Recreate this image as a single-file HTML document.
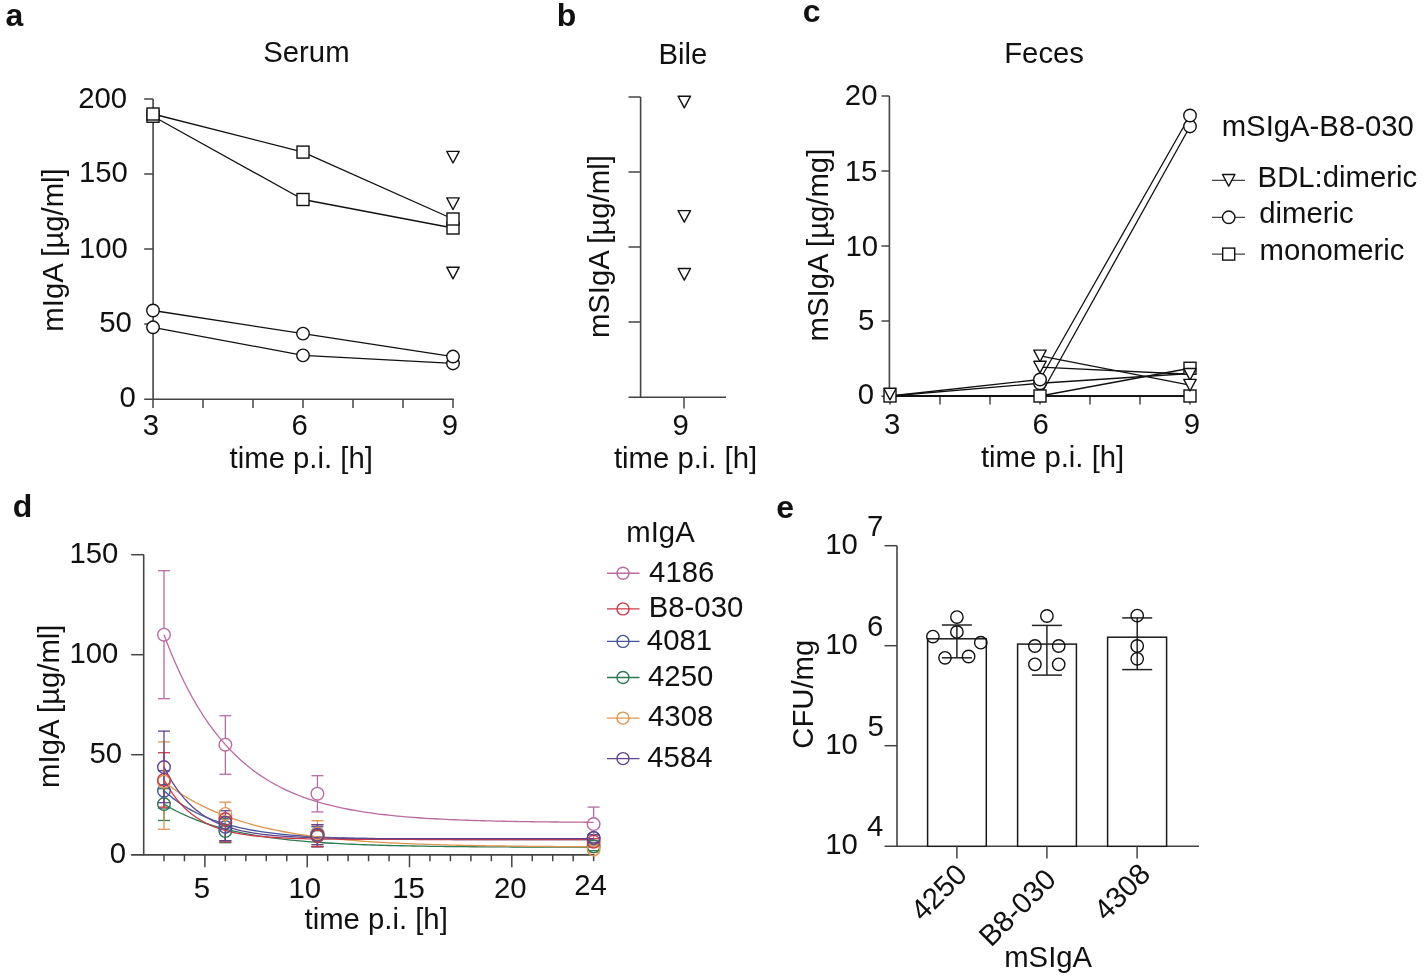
<!DOCTYPE html>
<html><head><meta charset="utf-8"><style>
html,body{margin:0;padding:0;background:#fff;}
svg{display:block;font-family:"Liberation Sans", sans-serif;will-change:transform;}
</style></head><body>
<svg width="1424" height="976" viewBox="0 0 1424 976">
<rect width="1424" height="976" fill="#fff"/>
<text x="5.50" y="25.80" font-size="32" font-weight="bold" fill="#111">a</text>
<text x="263.27" y="61.70" font-size="29.3" font-weight="normal" fill="#111">Serum</text>
<line x1="153.10" y1="99.00" x2="153.10" y2="399.90" stroke="#444" stroke-width="1.6" stroke-linecap="butt"/>
<line x1="144.20" y1="399.30" x2="453.80" y2="399.30" stroke="#444" stroke-width="1.6" stroke-linecap="butt"/>
<line x1="144.20" y1="99.00" x2="153.10" y2="99.00" stroke="#444" stroke-width="1.5" stroke-linecap="butt"/>
<line x1="144.20" y1="174.00" x2="153.10" y2="174.00" stroke="#444" stroke-width="1.5" stroke-linecap="butt"/>
<line x1="144.20" y1="249.00" x2="153.10" y2="249.00" stroke="#444" stroke-width="1.5" stroke-linecap="butt"/>
<line x1="144.20" y1="324.00" x2="153.10" y2="324.00" stroke="#444" stroke-width="1.5" stroke-linecap="butt"/>
<line x1="153.00" y1="399.00" x2="153.00" y2="408.00" stroke="#444" stroke-width="1.5" stroke-linecap="butt"/>
<line x1="203.00" y1="399.00" x2="203.00" y2="408.00" stroke="#444" stroke-width="1.5" stroke-linecap="butt"/>
<line x1="253.00" y1="399.00" x2="253.00" y2="408.00" stroke="#444" stroke-width="1.5" stroke-linecap="butt"/>
<line x1="303.00" y1="399.00" x2="303.00" y2="408.00" stroke="#444" stroke-width="1.5" stroke-linecap="butt"/>
<line x1="353.00" y1="399.00" x2="353.00" y2="408.00" stroke="#444" stroke-width="1.5" stroke-linecap="butt"/>
<line x1="403.00" y1="399.00" x2="403.00" y2="408.00" stroke="#444" stroke-width="1.5" stroke-linecap="butt"/>
<line x1="453.00" y1="399.00" x2="453.00" y2="408.00" stroke="#444" stroke-width="1.5" stroke-linecap="butt"/>
<text x="78.25" y="107.65" font-size="29.3" font-weight="normal" fill="#111">200</text>
<text x="78.95" y="182.10" font-size="29.3" font-weight="normal" fill="#111">150</text>
<text x="78.90" y="258.00" font-size="29.3" font-weight="normal" fill="#111">100</text>
<text x="99.20" y="332.10" font-size="29.3" font-weight="normal" fill="#111">50</text>
<text x="119.40" y="407.20" font-size="29.3" font-weight="normal" fill="#111">0</text>
<text x="142.80" y="434.70" font-size="29.3" font-weight="normal" fill="#111">3</text>
<text x="291.50" y="434.70" font-size="29.3" font-weight="normal" fill="#111">6</text>
<text x="441.80" y="434.70" font-size="29.3" font-weight="normal" fill="#111">9</text>
<text x="229.60" y="468.00" font-size="29.3" font-weight="normal" fill="#111">time p.i. [h]</text>
<text x="63.40" y="331.65" font-size="29.3" font-weight="normal" fill="#111" transform="rotate(-90 63.40 331.65)">mIgA [µg/ml]</text>
<polyline points="153.00,114.00 303.00,152.10 453.00,219.00" fill="none" stroke="#111" stroke-width="1.3" stroke-linejoin="round"/>
<polyline points="153.00,116.25 303.00,199.50 453.00,228.00" fill="none" stroke="#111" stroke-width="1.3" stroke-linejoin="round"/>
<polyline points="153.00,310.50 303.00,333.60 453.00,356.55" fill="none" stroke="#111" stroke-width="1.3" stroke-linejoin="round"/>
<polyline points="153.00,327.30 303.00,355.35 453.00,363.45" fill="none" stroke="#111" stroke-width="1.3" stroke-linejoin="round"/>
<rect x="147.00" y="110.25" width="12" height="12" fill="#fff" stroke="#111" stroke-width="1.4"/>
<rect x="297.00" y="193.50" width="12" height="12" fill="#fff" stroke="#111" stroke-width="1.4"/>
<rect x="447.00" y="222.00" width="12" height="12" fill="#fff" stroke="#111" stroke-width="1.4"/>
<rect x="147.00" y="108.00" width="12" height="12" fill="#fff" stroke="#111" stroke-width="1.4"/>
<rect x="297.00" y="146.10" width="12" height="12" fill="#fff" stroke="#111" stroke-width="1.4"/>
<rect x="447.00" y="213.00" width="12" height="12" fill="#fff" stroke="#111" stroke-width="1.4"/>
<circle cx="153.00" cy="327.30" r="6.25" fill="#fff" stroke="#111" stroke-width="1.4"/>
<circle cx="303.00" cy="355.35" r="6.25" fill="#fff" stroke="#111" stroke-width="1.4"/>
<circle cx="453.00" cy="363.45" r="6.25" fill="#fff" stroke="#111" stroke-width="1.4"/>
<circle cx="153.00" cy="310.50" r="6.25" fill="#fff" stroke="#111" stroke-width="1.4"/>
<circle cx="303.00" cy="333.60" r="6.25" fill="#fff" stroke="#111" stroke-width="1.4"/>
<circle cx="453.00" cy="356.55" r="6.25" fill="#fff" stroke="#111" stroke-width="1.4"/>
<polygon points="446.80,151.40 459.20,151.40 453.00,163.00" fill="#fff" stroke="#111" stroke-width="1.4" stroke-linejoin="round"/>
<polygon points="446.80,197.90 459.20,197.90 453.00,209.50" fill="#fff" stroke="#111" stroke-width="1.4" stroke-linejoin="round"/>
<polygon points="446.80,267.20 459.20,267.20 453.00,278.80" fill="#fff" stroke="#111" stroke-width="1.4" stroke-linejoin="round"/>
<text x="556.85" y="26.25" font-size="32" font-weight="bold" fill="#111">b</text>
<text x="658.50" y="64.45" font-size="29.3" font-weight="normal" fill="#111">Bile</text>
<line x1="640.60" y1="97.00" x2="640.60" y2="397.90" stroke="#444" stroke-width="1.6" stroke-linecap="butt"/>
<line x1="628.50" y1="397.30" x2="726.00" y2="397.30" stroke="#444" stroke-width="1.6" stroke-linecap="butt"/>
<line x1="628.50" y1="97.00" x2="640.60" y2="97.00" stroke="#444" stroke-width="1.5" stroke-linecap="butt"/>
<line x1="628.50" y1="172.00" x2="640.60" y2="172.00" stroke="#444" stroke-width="1.5" stroke-linecap="butt"/>
<line x1="628.50" y1="247.00" x2="640.60" y2="247.00" stroke="#444" stroke-width="1.5" stroke-linecap="butt"/>
<line x1="628.50" y1="322.00" x2="640.60" y2="322.00" stroke="#444" stroke-width="1.5" stroke-linecap="butt"/>
<line x1="684.00" y1="397.00" x2="684.00" y2="408.50" stroke="#444" stroke-width="1.5" stroke-linecap="butt"/>
<text x="672.60" y="434.50" font-size="29.3" font-weight="normal" fill="#111">9</text>
<text x="613.90" y="467.75" font-size="29.3" font-weight="normal" fill="#111">time p.i. [h]</text>
<text x="609.50" y="338.10" font-size="29.3" font-weight="normal" fill="#111" transform="rotate(-90 609.50 338.10)">mSIgA [µg/ml]</text>
<polygon points="678.10,96.20 690.50,96.20 684.30,107.80" fill="#fff" stroke="#111" stroke-width="1.4" stroke-linejoin="round"/>
<polygon points="678.10,210.60 690.50,210.60 684.30,222.20" fill="#fff" stroke="#111" stroke-width="1.4" stroke-linejoin="round"/>
<polygon points="678.10,268.50 690.50,268.50 684.30,280.10" fill="#fff" stroke="#111" stroke-width="1.4" stroke-linejoin="round"/>
<text x="802.75" y="22.10" font-size="32" font-weight="bold" fill="#111">c</text>
<text x="1004.20" y="63.30" font-size="29.3" font-weight="normal" fill="#111">Feces</text>
<line x1="889.40" y1="96.00" x2="889.40" y2="396.90" stroke="#444" stroke-width="1.6" stroke-linecap="butt"/>
<line x1="881.50" y1="396.30" x2="1190.80" y2="396.30" stroke="#444" stroke-width="1.6" stroke-linecap="butt"/>
<line x1="881.50" y1="96.00" x2="889.40" y2="96.00" stroke="#444" stroke-width="1.5" stroke-linecap="butt"/>
<line x1="881.50" y1="171.00" x2="889.40" y2="171.00" stroke="#444" stroke-width="1.5" stroke-linecap="butt"/>
<line x1="881.50" y1="246.00" x2="889.40" y2="246.00" stroke="#444" stroke-width="1.5" stroke-linecap="butt"/>
<line x1="881.50" y1="321.00" x2="889.40" y2="321.00" stroke="#444" stroke-width="1.5" stroke-linecap="butt"/>
<line x1="890.00" y1="396.00" x2="890.00" y2="404.50" stroke="#444" stroke-width="1.5" stroke-linecap="butt"/>
<line x1="940.00" y1="396.00" x2="940.00" y2="404.50" stroke="#444" stroke-width="1.5" stroke-linecap="butt"/>
<line x1="990.00" y1="396.00" x2="990.00" y2="404.50" stroke="#444" stroke-width="1.5" stroke-linecap="butt"/>
<line x1="1040.00" y1="396.00" x2="1040.00" y2="404.50" stroke="#444" stroke-width="1.5" stroke-linecap="butt"/>
<line x1="1090.00" y1="396.00" x2="1090.00" y2="404.50" stroke="#444" stroke-width="1.5" stroke-linecap="butt"/>
<line x1="1140.00" y1="396.00" x2="1140.00" y2="404.50" stroke="#444" stroke-width="1.5" stroke-linecap="butt"/>
<line x1="1190.00" y1="396.00" x2="1190.00" y2="404.50" stroke="#444" stroke-width="1.5" stroke-linecap="butt"/>
<text x="844.85" y="104.80" font-size="29.3" font-weight="normal" fill="#111">20</text>
<text x="844.80" y="181.30" font-size="29.3" font-weight="normal" fill="#111">15</text>
<text x="845.45" y="255.90" font-size="29.3" font-weight="normal" fill="#111">10</text>
<text x="857.95" y="329.75" font-size="29.3" font-weight="normal" fill="#111">5</text>
<text x="857.65" y="404.45" font-size="29.3" font-weight="normal" fill="#111">0</text>
<text x="884.05" y="434.40" font-size="29.3" font-weight="normal" fill="#111">3</text>
<text x="1032.60" y="434.40" font-size="29.3" font-weight="normal" fill="#111">6</text>
<text x="1183.75" y="434.40" font-size="29.3" font-weight="normal" fill="#111">9</text>
<text x="980.95" y="467.20" font-size="29.3" font-weight="normal" fill="#111">time p.i. [h]</text>
<text x="828.30" y="341.45" font-size="29.3" font-weight="normal" fill="#111" transform="rotate(-90 828.30 341.45)">mSIgA [µg/mg]</text>
<polyline points="1040.00,355.95 1190.00,385.20" fill="none" stroke="#111" stroke-width="1.3" stroke-linejoin="round"/>
<polyline points="1040.00,367.05 1190.00,374.25" fill="none" stroke="#111" stroke-width="1.3" stroke-linejoin="round"/>
<polyline points="890.00,396.00 1040.00,383.25 1190.00,373.50" fill="none" stroke="#111" stroke-width="1.3" stroke-linejoin="round"/>
<polyline points="890.00,396.00 1040.00,379.50 1190.00,115.50" fill="none" stroke="#111" stroke-width="1.3" stroke-linejoin="round"/>
<polyline points="890.00,396.00 1040.00,396.00 1190.00,126.45" fill="none" stroke="#111" stroke-width="1.3" stroke-linejoin="round"/>
<polyline points="890.00,396.00 1040.00,396.00 1190.00,368.25" fill="none" stroke="#111" stroke-width="1.3" stroke-linejoin="round"/>
<polyline points="890.00,396.00 1040.00,396.00 1190.00,396.00" fill="none" stroke="#111" stroke-width="1.3" stroke-linejoin="round"/>
<line x1="890" y1="396.2" x2="1190" y2="396.2" stroke="#111" stroke-width="1.7"/>
<circle cx="1040.00" cy="383.25" r="6.25" fill="#fff" stroke="#111" stroke-width="1.4"/>
<circle cx="1040.00" cy="379.50" r="6.25" fill="#fff" stroke="#111" stroke-width="1.4"/>
<circle cx="1190.00" cy="126.45" r="6.25" fill="#fff" stroke="#111" stroke-width="1.4"/>
<circle cx="1190.00" cy="115.50" r="6.25" fill="#fff" stroke="#111" stroke-width="1.4"/>
<rect x="884.00" y="390.00" width="12" height="12" fill="#fff" stroke="#111" stroke-width="1.4"/>
<rect x="1034.00" y="390.00" width="12" height="12" fill="#fff" stroke="#111" stroke-width="1.4"/>
<rect x="1184.00" y="362.25" width="12" height="12" fill="#fff" stroke="#111" stroke-width="1.4"/>
<rect x="1184.00" y="390.00" width="12" height="12" fill="#fff" stroke="#111" stroke-width="1.4"/>
<polygon points="883.80,388.25 896.20,388.25 890.00,399.85" fill="#fff" stroke="#111" stroke-width="1.4" stroke-linejoin="round"/>
<polygon points="1033.80,350.15 1046.20,350.15 1040.00,361.75" fill="#fff" stroke="#111" stroke-width="1.4" stroke-linejoin="round"/>
<polygon points="1033.80,361.25 1046.20,361.25 1040.00,372.85" fill="#fff" stroke="#111" stroke-width="1.4" stroke-linejoin="round"/>
<polygon points="1183.80,368.45 1196.20,368.45 1190.00,380.05" fill="#fff" stroke="#111" stroke-width="1.4" stroke-linejoin="round"/>
<polygon points="1183.80,379.40 1196.20,379.40 1190.00,391.00" fill="#fff" stroke="#111" stroke-width="1.4" stroke-linejoin="round"/>
<text x="1221.70" y="136.00" font-size="29.3" font-weight="normal" fill="#111">mSIgA-B8-030</text>
<line x1="1212.00" y1="180.30" x2="1245.00" y2="180.30" stroke="#444" stroke-width="1.3" stroke-linecap="butt"/>
<polygon points="1222.50,174.50 1234.90,174.50 1228.70,186.10" fill="#fff" stroke="#111" stroke-width="1.4" stroke-linejoin="round"/>
<text x="1257.60" y="186.50" font-size="29.3" font-weight="normal" fill="#111">BDL:dimeric</text>
<line x1="1212.00" y1="217.30" x2="1245.00" y2="217.30" stroke="#444" stroke-width="1.3" stroke-linecap="butt"/>
<circle cx="1228.70" cy="217.30" r="6.25" fill="#fff" stroke="#111" stroke-width="1.4"/>
<text x="1259.20" y="222.70" font-size="29.3" font-weight="normal" fill="#111">dimeric</text>
<line x1="1212.00" y1="254.10" x2="1245.00" y2="254.10" stroke="#444" stroke-width="1.3" stroke-linecap="butt"/>
<rect x="1222.70" y="248.10" width="12" height="12" fill="#fff" stroke="#111" stroke-width="1.4"/>
<text x="1259.50" y="259.60" font-size="29.3" font-weight="normal" fill="#111">monomeric</text>
<text x="12.70" y="516.80" font-size="32" font-weight="bold" fill="#111">d</text>
<line x1="143.70" y1="554.60" x2="143.70" y2="855.50" stroke="#444" stroke-width="1.6" stroke-linecap="butt"/>
<line x1="131.20" y1="854.90" x2="594.40" y2="854.90" stroke="#444" stroke-width="1.6" stroke-linecap="butt"/>
<line x1="131.20" y1="554.70" x2="143.70" y2="554.70" stroke="#444" stroke-width="1.5" stroke-linecap="butt"/>
<line x1="131.20" y1="654.70" x2="143.70" y2="654.70" stroke="#444" stroke-width="1.5" stroke-linecap="butt"/>
<line x1="131.20" y1="754.70" x2="143.70" y2="754.70" stroke="#444" stroke-width="1.5" stroke-linecap="butt"/>
<line x1="163.98" y1="854.70" x2="163.98" y2="861.20" stroke="#444" stroke-width="1.5" stroke-linecap="butt"/>
<line x1="184.44" y1="854.70" x2="184.44" y2="861.20" stroke="#444" stroke-width="1.5" stroke-linecap="butt"/>
<line x1="204.90" y1="854.70" x2="204.90" y2="867.20" stroke="#444" stroke-width="1.5" stroke-linecap="butt"/>
<line x1="225.36" y1="854.70" x2="225.36" y2="861.20" stroke="#444" stroke-width="1.5" stroke-linecap="butt"/>
<line x1="245.82" y1="854.70" x2="245.82" y2="861.20" stroke="#444" stroke-width="1.5" stroke-linecap="butt"/>
<line x1="266.28" y1="854.70" x2="266.28" y2="861.20" stroke="#444" stroke-width="1.5" stroke-linecap="butt"/>
<line x1="286.74" y1="854.70" x2="286.74" y2="861.20" stroke="#444" stroke-width="1.5" stroke-linecap="butt"/>
<line x1="307.20" y1="854.70" x2="307.20" y2="867.20" stroke="#444" stroke-width="1.5" stroke-linecap="butt"/>
<line x1="327.66" y1="854.70" x2="327.66" y2="861.20" stroke="#444" stroke-width="1.5" stroke-linecap="butt"/>
<line x1="348.12" y1="854.70" x2="348.12" y2="861.20" stroke="#444" stroke-width="1.5" stroke-linecap="butt"/>
<line x1="368.58" y1="854.70" x2="368.58" y2="861.20" stroke="#444" stroke-width="1.5" stroke-linecap="butt"/>
<line x1="389.04" y1="854.70" x2="389.04" y2="861.20" stroke="#444" stroke-width="1.5" stroke-linecap="butt"/>
<line x1="409.50" y1="854.70" x2="409.50" y2="867.20" stroke="#444" stroke-width="1.5" stroke-linecap="butt"/>
<line x1="429.96" y1="854.70" x2="429.96" y2="861.20" stroke="#444" stroke-width="1.5" stroke-linecap="butt"/>
<line x1="450.42" y1="854.70" x2="450.42" y2="861.20" stroke="#444" stroke-width="1.5" stroke-linecap="butt"/>
<line x1="470.88" y1="854.70" x2="470.88" y2="861.20" stroke="#444" stroke-width="1.5" stroke-linecap="butt"/>
<line x1="491.34" y1="854.70" x2="491.34" y2="861.20" stroke="#444" stroke-width="1.5" stroke-linecap="butt"/>
<line x1="511.80" y1="854.70" x2="511.80" y2="867.20" stroke="#444" stroke-width="1.5" stroke-linecap="butt"/>
<line x1="532.26" y1="854.70" x2="532.26" y2="861.20" stroke="#444" stroke-width="1.5" stroke-linecap="butt"/>
<line x1="552.72" y1="854.70" x2="552.72" y2="861.20" stroke="#444" stroke-width="1.5" stroke-linecap="butt"/>
<line x1="573.18" y1="854.70" x2="573.18" y2="861.20" stroke="#444" stroke-width="1.5" stroke-linecap="butt"/>
<line x1="593.64" y1="854.70" x2="593.64" y2="861.20" stroke="#444" stroke-width="1.5" stroke-linecap="butt"/>
<text x="69.45" y="562.95" font-size="29.3" font-weight="normal" fill="#111">150</text>
<text x="69.45" y="662.90" font-size="29.3" font-weight="normal" fill="#111">100</text>
<text x="89.55" y="763.10" font-size="29.3" font-weight="normal" fill="#111">50</text>
<text x="109.80" y="863.10" font-size="29.3" font-weight="normal" fill="#111">0</text>
<text x="193.65" y="897.90" font-size="29.3" font-weight="normal" fill="#111">5</text>
<text x="288.50" y="897.90" font-size="29.3" font-weight="normal" fill="#111">10</text>
<text x="392.20" y="897.90" font-size="29.3" font-weight="normal" fill="#111">15</text>
<text x="493.90" y="897.90" font-size="29.3" font-weight="normal" fill="#111">20</text>
<text x="574.15" y="895.25" font-size="29.3" font-weight="normal" fill="#111">24</text>
<text x="304.50" y="928.50" font-size="29.3" font-weight="normal" fill="#111">time p.i. [h]</text>
<text x="59.40" y="787.90" font-size="29.3" font-weight="normal" fill="#111" transform="rotate(-90 59.40 787.90)">mIgA [µg/ml]</text>
<line x1="163.98" y1="788.70" x2="163.98" y2="797.80" stroke="#2a7a52" stroke-width="1.3" stroke-linecap="butt"/>
<line x1="163.98" y1="810.40" x2="163.98" y2="820.50" stroke="#2a7a52" stroke-width="1.3" stroke-linecap="butt"/>
<line x1="157.98" y1="788.70" x2="169.98" y2="788.70" stroke="#2a7a52" stroke-width="1.3" stroke-linecap="butt"/>
<line x1="157.98" y1="820.50" x2="169.98" y2="820.50" stroke="#2a7a52" stroke-width="1.3" stroke-linecap="butt"/>
<line x1="225.36" y1="818.70" x2="225.36" y2="824.80" stroke="#2a7a52" stroke-width="1.3" stroke-linecap="butt"/>
<line x1="225.36" y1="837.40" x2="225.36" y2="842.70" stroke="#2a7a52" stroke-width="1.3" stroke-linecap="butt"/>
<line x1="219.36" y1="818.70" x2="231.36" y2="818.70" stroke="#2a7a52" stroke-width="1.3" stroke-linecap="butt"/>
<line x1="219.36" y1="842.70" x2="231.36" y2="842.70" stroke="#2a7a52" stroke-width="1.3" stroke-linecap="butt"/>
<line x1="317.43" y1="842.40" x2="317.43" y2="846.70" stroke="#2a7a52" stroke-width="1.3" stroke-linecap="butt"/>
<line x1="311.43" y1="830.70" x2="323.43" y2="830.70" stroke="#2a7a52" stroke-width="1.3" stroke-linecap="butt"/>
<line x1="311.43" y1="846.70" x2="323.43" y2="846.70" stroke="#2a7a52" stroke-width="1.3" stroke-linecap="butt"/>
<line x1="587.64" y1="844.70" x2="599.64" y2="844.70" stroke="#2a7a52" stroke-width="1.3" stroke-linecap="butt"/>
<line x1="587.64" y1="850.70" x2="599.64" y2="850.70" stroke="#2a7a52" stroke-width="1.3" stroke-linecap="butt"/>
<line x1="163.98" y1="770.70" x2="163.98" y2="784.40" stroke="#44549a" stroke-width="1.3" stroke-linecap="butt"/>
<line x1="163.98" y1="797.00" x2="163.98" y2="808.10" stroke="#44549a" stroke-width="1.3" stroke-linecap="butt"/>
<line x1="157.98" y1="770.70" x2="169.98" y2="770.70" stroke="#44549a" stroke-width="1.3" stroke-linecap="butt"/>
<line x1="157.98" y1="808.10" x2="169.98" y2="808.10" stroke="#44549a" stroke-width="1.3" stroke-linecap="butt"/>
<line x1="225.36" y1="816.70" x2="225.36" y2="820.60" stroke="#44549a" stroke-width="1.3" stroke-linecap="butt"/>
<line x1="225.36" y1="833.20" x2="225.36" y2="840.70" stroke="#44549a" stroke-width="1.3" stroke-linecap="butt"/>
<line x1="219.36" y1="816.70" x2="231.36" y2="816.70" stroke="#44549a" stroke-width="1.3" stroke-linecap="butt"/>
<line x1="219.36" y1="840.70" x2="231.36" y2="840.70" stroke="#44549a" stroke-width="1.3" stroke-linecap="butt"/>
<line x1="317.43" y1="826.70" x2="317.43" y2="827.20" stroke="#44549a" stroke-width="1.3" stroke-linecap="butt"/>
<line x1="317.43" y1="839.80" x2="317.43" y2="846.70" stroke="#44549a" stroke-width="1.3" stroke-linecap="butt"/>
<line x1="311.43" y1="826.70" x2="323.43" y2="826.70" stroke="#44549a" stroke-width="1.3" stroke-linecap="butt"/>
<line x1="311.43" y1="846.70" x2="323.43" y2="846.70" stroke="#44549a" stroke-width="1.3" stroke-linecap="butt"/>
<line x1="587.64" y1="834.70" x2="599.64" y2="834.70" stroke="#44549a" stroke-width="1.3" stroke-linecap="butt"/>
<line x1="587.64" y1="842.70" x2="599.64" y2="842.70" stroke="#44549a" stroke-width="1.3" stroke-linecap="butt"/>
<line x1="163.98" y1="741.90" x2="163.98" y2="775.40" stroke="#e0954e" stroke-width="1.3" stroke-linecap="butt"/>
<line x1="163.98" y1="788.00" x2="163.98" y2="829.30" stroke="#e0954e" stroke-width="1.3" stroke-linecap="butt"/>
<line x1="157.98" y1="741.90" x2="169.98" y2="741.90" stroke="#e0954e" stroke-width="1.3" stroke-linecap="butt"/>
<line x1="157.98" y1="829.30" x2="169.98" y2="829.30" stroke="#e0954e" stroke-width="1.3" stroke-linecap="butt"/>
<line x1="225.36" y1="802.10" x2="225.36" y2="807.60" stroke="#e0954e" stroke-width="1.3" stroke-linecap="butt"/>
<line x1="225.36" y1="820.20" x2="225.36" y2="826.70" stroke="#e0954e" stroke-width="1.3" stroke-linecap="butt"/>
<line x1="219.36" y1="802.10" x2="231.36" y2="802.10" stroke="#e0954e" stroke-width="1.3" stroke-linecap="butt"/>
<line x1="219.36" y1="826.70" x2="231.36" y2="826.70" stroke="#e0954e" stroke-width="1.3" stroke-linecap="butt"/>
<line x1="317.43" y1="820.70" x2="317.43" y2="827.20" stroke="#e0954e" stroke-width="1.3" stroke-linecap="butt"/>
<line x1="317.43" y1="839.80" x2="317.43" y2="844.70" stroke="#e0954e" stroke-width="1.3" stroke-linecap="butt"/>
<line x1="311.43" y1="820.70" x2="323.43" y2="820.70" stroke="#e0954e" stroke-width="1.3" stroke-linecap="butt"/>
<line x1="311.43" y1="844.70" x2="323.43" y2="844.70" stroke="#e0954e" stroke-width="1.3" stroke-linecap="butt"/>
<line x1="587.64" y1="846.70" x2="599.64" y2="846.70" stroke="#e0954e" stroke-width="1.3" stroke-linecap="butt"/>
<line x1="587.64" y1="852.70" x2="599.64" y2="852.70" stroke="#e0954e" stroke-width="1.3" stroke-linecap="butt"/>
<line x1="163.98" y1="752.70" x2="163.98" y2="773.60" stroke="#cc3a48" stroke-width="1.3" stroke-linecap="butt"/>
<line x1="163.98" y1="786.20" x2="163.98" y2="807.10" stroke="#cc3a48" stroke-width="1.3" stroke-linecap="butt"/>
<line x1="157.98" y1="752.70" x2="169.98" y2="752.70" stroke="#cc3a48" stroke-width="1.3" stroke-linecap="butt"/>
<line x1="157.98" y1="807.10" x2="169.98" y2="807.10" stroke="#cc3a48" stroke-width="1.3" stroke-linecap="butt"/>
<line x1="225.36" y1="825.40" x2="225.36" y2="841.90" stroke="#cc3a48" stroke-width="1.3" stroke-linecap="butt"/>
<line x1="219.36" y1="816.70" x2="231.36" y2="816.70" stroke="#cc3a48" stroke-width="1.3" stroke-linecap="butt"/>
<line x1="219.36" y1="841.90" x2="231.36" y2="841.90" stroke="#cc3a48" stroke-width="1.3" stroke-linecap="butt"/>
<line x1="317.43" y1="824.70" x2="317.43" y2="829.80" stroke="#cc3a48" stroke-width="1.3" stroke-linecap="butt"/>
<line x1="317.43" y1="842.40" x2="317.43" y2="846.70" stroke="#cc3a48" stroke-width="1.3" stroke-linecap="butt"/>
<line x1="311.43" y1="824.70" x2="323.43" y2="824.70" stroke="#cc3a48" stroke-width="1.3" stroke-linecap="butt"/>
<line x1="311.43" y1="846.70" x2="323.43" y2="846.70" stroke="#cc3a48" stroke-width="1.3" stroke-linecap="butt"/>
<line x1="587.64" y1="838.70" x2="599.64" y2="838.70" stroke="#cc3a48" stroke-width="1.3" stroke-linecap="butt"/>
<line x1="587.64" y1="844.70" x2="599.64" y2="844.70" stroke="#cc3a48" stroke-width="1.3" stroke-linecap="butt"/>
<line x1="163.98" y1="731.10" x2="163.98" y2="760.80" stroke="#5e4590" stroke-width="1.3" stroke-linecap="butt"/>
<line x1="163.98" y1="773.40" x2="163.98" y2="802.70" stroke="#5e4590" stroke-width="1.3" stroke-linecap="butt"/>
<line x1="157.98" y1="731.10" x2="169.98" y2="731.10" stroke="#5e4590" stroke-width="1.3" stroke-linecap="butt"/>
<line x1="157.98" y1="802.70" x2="169.98" y2="802.70" stroke="#5e4590" stroke-width="1.3" stroke-linecap="butt"/>
<line x1="225.36" y1="810.70" x2="225.36" y2="816.40" stroke="#5e4590" stroke-width="1.3" stroke-linecap="butt"/>
<line x1="225.36" y1="829.00" x2="225.36" y2="840.70" stroke="#5e4590" stroke-width="1.3" stroke-linecap="butt"/>
<line x1="219.36" y1="810.70" x2="231.36" y2="810.70" stroke="#5e4590" stroke-width="1.3" stroke-linecap="butt"/>
<line x1="219.36" y1="840.70" x2="231.36" y2="840.70" stroke="#5e4590" stroke-width="1.3" stroke-linecap="butt"/>
<line x1="317.43" y1="824.70" x2="317.43" y2="828.40" stroke="#5e4590" stroke-width="1.3" stroke-linecap="butt"/>
<line x1="317.43" y1="841.00" x2="317.43" y2="844.70" stroke="#5e4590" stroke-width="1.3" stroke-linecap="butt"/>
<line x1="311.43" y1="824.70" x2="323.43" y2="824.70" stroke="#5e4590" stroke-width="1.3" stroke-linecap="butt"/>
<line x1="311.43" y1="844.70" x2="323.43" y2="844.70" stroke="#5e4590" stroke-width="1.3" stroke-linecap="butt"/>
<line x1="587.64" y1="834.70" x2="599.64" y2="834.70" stroke="#5e4590" stroke-width="1.3" stroke-linecap="butt"/>
<line x1="587.64" y1="842.70" x2="599.64" y2="842.70" stroke="#5e4590" stroke-width="1.3" stroke-linecap="butt"/>
<line x1="163.98" y1="570.70" x2="163.98" y2="628.40" stroke="#bb6aa0" stroke-width="1.3" stroke-linecap="butt"/>
<line x1="163.98" y1="641.00" x2="163.98" y2="698.70" stroke="#bb6aa0" stroke-width="1.3" stroke-linecap="butt"/>
<line x1="157.98" y1="570.70" x2="169.98" y2="570.70" stroke="#bb6aa0" stroke-width="1.3" stroke-linecap="butt"/>
<line x1="157.98" y1="698.70" x2="169.98" y2="698.70" stroke="#bb6aa0" stroke-width="1.3" stroke-linecap="butt"/>
<line x1="225.36" y1="715.70" x2="225.36" y2="738.40" stroke="#bb6aa0" stroke-width="1.3" stroke-linecap="butt"/>
<line x1="225.36" y1="751.00" x2="225.36" y2="774.30" stroke="#bb6aa0" stroke-width="1.3" stroke-linecap="butt"/>
<line x1="219.36" y1="715.70" x2="231.36" y2="715.70" stroke="#bb6aa0" stroke-width="1.3" stroke-linecap="butt"/>
<line x1="219.36" y1="774.30" x2="231.36" y2="774.30" stroke="#bb6aa0" stroke-width="1.3" stroke-linecap="butt"/>
<line x1="317.43" y1="775.70" x2="317.43" y2="787.40" stroke="#bb6aa0" stroke-width="1.3" stroke-linecap="butt"/>
<line x1="317.43" y1="800.00" x2="317.43" y2="811.90" stroke="#bb6aa0" stroke-width="1.3" stroke-linecap="butt"/>
<line x1="311.43" y1="775.70" x2="323.43" y2="775.70" stroke="#bb6aa0" stroke-width="1.3" stroke-linecap="butt"/>
<line x1="311.43" y1="811.90" x2="323.43" y2="811.90" stroke="#bb6aa0" stroke-width="1.3" stroke-linecap="butt"/>
<line x1="593.64" y1="807.10" x2="593.64" y2="817.80" stroke="#bb6aa0" stroke-width="1.3" stroke-linecap="butt"/>
<line x1="593.64" y1="830.40" x2="593.64" y2="840.70" stroke="#bb6aa0" stroke-width="1.3" stroke-linecap="butt"/>
<line x1="587.64" y1="807.10" x2="599.64" y2="807.10" stroke="#bb6aa0" stroke-width="1.3" stroke-linecap="butt"/>
<line x1="587.64" y1="840.70" x2="599.64" y2="840.70" stroke="#bb6aa0" stroke-width="1.3" stroke-linecap="butt"/>
<polyline points="163.98,804.10 168.07,806.52 172.16,808.80 176.26,810.96 180.35,812.99 184.44,814.91 188.53,816.72 192.62,818.43 196.72,820.05 200.81,821.58 204.90,823.02 208.99,824.37 213.08,825.66 217.18,826.87 221.27,828.01 225.36,829.09 229.45,830.11 233.54,831.07 237.64,831.98 241.73,832.84 245.82,833.65 249.91,834.41 254.00,835.13 258.10,835.82 262.19,836.46 266.28,837.06 270.37,837.64 274.46,838.18 278.56,838.69 282.65,839.17 286.74,839.63 290.83,840.06 294.92,840.46 299.02,840.84 303.11,841.21 307.20,841.55 311.29,841.87 315.38,842.17 319.48,842.46 323.57,842.73 327.66,842.99 331.75,843.23 335.84,843.46 339.94,843.67 344.03,843.87 348.12,844.07 352.21,844.25 356.30,844.42 360.40,844.58 364.49,844.73 368.58,844.87 372.67,845.01 376.76,845.14 380.86,845.26 384.95,845.37 389.04,845.48 393.13,845.58 397.22,845.68 401.32,845.77 405.41,845.86 409.50,845.94 413.59,846.01 417.68,846.09 421.78,846.15 425.87,846.22 429.96,846.28 434.05,846.34 438.14,846.39 442.24,846.44 446.33,846.49 450.42,846.53 454.51,846.58 458.60,846.62 462.70,846.66 466.79,846.69 470.88,846.73 474.97,846.76 479.06,846.79 483.16,846.82 487.25,846.84 491.34,846.87 495.43,846.89 499.52,846.92 503.62,846.94 507.71,846.96 511.80,846.98 515.89,847.00 519.98,847.01 524.08,847.03 528.17,847.04 532.26,847.06 536.35,847.07 540.44,847.08 544.54,847.10 548.63,847.11 552.72,847.12 556.81,847.13 560.90,847.14 565.00,847.15 569.09,847.16 573.18,847.16 577.27,847.17 581.36,847.18 585.46,847.19 589.55,847.19 593.64,847.20" fill="none" stroke="#2a7a52" stroke-width="1.3" stroke-linejoin="round"/>
<polyline points="163.98,790.70 168.07,794.29 172.16,797.61 176.26,800.69 180.35,803.54 184.44,806.19 188.53,808.64 192.62,810.92 196.72,813.02 200.81,814.97 204.90,816.78 208.99,818.46 213.08,820.02 217.18,821.46 221.27,822.79 225.36,824.03 229.45,825.18 233.54,826.24 237.64,827.22 241.73,828.14 245.82,828.98 249.91,829.77 254.00,830.49 258.10,831.17 262.19,831.79 266.28,832.37 270.37,832.91 274.46,833.40 278.56,833.87 282.65,834.29 286.74,834.69 290.83,835.05 294.92,835.39 299.02,835.71 303.11,836.00 307.20,836.27 311.29,836.52 315.38,836.76 319.48,836.97 323.57,837.17 327.66,837.36 331.75,837.53 335.84,837.69 339.94,837.83 344.03,837.97 348.12,838.10 352.21,838.21 356.30,838.32 360.40,838.42 364.49,838.52 368.58,838.60 372.67,838.68 376.76,838.76 380.86,838.83 384.95,838.89 389.04,838.95 393.13,839.01 397.22,839.06 401.32,839.10 405.41,839.15 409.50,839.19 413.59,839.22 417.68,839.26 421.78,839.29 425.87,839.32 429.96,839.35 434.05,839.38 438.14,839.40 442.24,839.42 446.33,839.44 450.42,839.46 454.51,839.48 458.60,839.49 462.70,839.51 466.79,839.52 470.88,839.54 474.97,839.55 479.06,839.56 483.16,839.57 487.25,839.58 491.34,839.59 495.43,839.60 499.52,839.60 503.62,839.61 507.71,839.62 511.80,839.62 515.89,839.63 519.98,839.63 524.08,839.64 528.17,839.64 532.26,839.65 536.35,839.65 540.44,839.65 544.54,839.66 548.63,839.66 552.72,839.66 556.81,839.67 560.90,839.67 565.00,839.67 569.09,839.67 573.18,839.68 577.27,839.68 581.36,839.68 585.46,839.68 589.55,839.68 593.64,839.68" fill="none" stroke="#44549a" stroke-width="1.3" stroke-linejoin="round"/>
<polyline points="163.98,781.70 168.07,784.85 172.16,787.85 176.26,790.71 180.35,793.43 184.44,796.01 188.53,798.48 192.62,800.82 196.72,803.05 200.81,805.17 204.90,807.19 208.99,809.12 213.08,810.95 217.18,812.69 221.27,814.35 225.36,815.93 229.45,817.43 233.54,818.86 237.64,820.22 241.73,821.52 245.82,822.75 249.91,823.92 254.00,825.04 258.10,826.10 262.19,827.12 266.28,828.08 270.37,829.00 274.46,829.87 278.56,830.70 282.65,831.49 286.74,832.24 290.83,832.96 294.92,833.64 299.02,834.29 303.11,834.91 307.20,835.49 311.29,836.05 315.38,836.59 319.48,837.09 323.57,837.57 327.66,838.03 331.75,838.47 335.84,838.89 339.94,839.28 344.03,839.66 348.12,840.02 352.21,840.36 356.30,840.68 360.40,840.99 364.49,841.29 368.58,841.57 372.67,841.83 376.76,842.09 380.86,842.33 384.95,842.56 389.04,842.78 393.13,842.99 397.22,843.19 401.32,843.37 405.41,843.55 409.50,843.72 413.59,843.89 417.68,844.04 421.78,844.19 425.87,844.33 429.96,844.46 434.05,844.59 438.14,844.71 442.24,844.83 446.33,844.94 450.42,845.04 454.51,845.14 458.60,845.23 462.70,845.32 466.79,845.41 470.88,845.49 474.97,845.57 479.06,845.64 483.16,845.71 487.25,845.78 491.34,845.84 495.43,845.90 499.52,845.96 503.62,846.02 507.71,846.07 511.80,846.12 515.89,846.17 519.98,846.21 524.08,846.25 528.17,846.29 532.26,846.33 536.35,846.37 540.44,846.41 544.54,846.44 548.63,846.47 552.72,846.50 556.81,846.53 560.90,846.56 565.00,846.58 569.09,846.61 573.18,846.63 577.27,846.65 581.36,846.68 585.46,846.70 589.55,846.72 593.64,846.73" fill="none" stroke="#e0954e" stroke-width="1.3" stroke-linejoin="round"/>
<polyline points="163.98,779.90 168.07,786.96 172.16,793.18 176.26,798.66 180.35,803.50 184.44,807.76 188.53,811.52 192.62,814.83 196.72,817.75 200.81,820.32 204.90,822.59 208.99,824.60 213.08,826.36 217.18,827.92 221.27,829.29 225.36,830.50 229.45,831.56 233.54,832.50 237.64,833.33 241.73,834.06 245.82,834.70 249.91,835.27 254.00,835.77 258.10,836.21 262.19,836.60 266.28,836.95 270.37,837.25 274.46,837.51 278.56,837.75 282.65,837.96 286.74,838.14 290.83,838.30 294.92,838.44 299.02,838.57 303.11,838.68 307.20,838.78 311.29,838.86 315.38,838.94 319.48,839.00 323.57,839.06 327.66,839.11 331.75,839.16 335.84,839.20 339.94,839.24 344.03,839.27 348.12,839.29 352.21,839.32 356.30,839.34 360.40,839.36 364.49,839.38 368.58,839.39 372.67,839.40 376.76,839.41 380.86,839.43 384.95,839.43 389.04,839.44 393.13,839.45 397.22,839.45 401.32,839.46 405.41,839.46 409.50,839.47 413.59,839.47 417.68,839.48 421.78,839.48 425.87,839.48 429.96,839.48 434.05,839.49 438.14,839.49 442.24,839.49 446.33,839.49 450.42,839.49 454.51,839.49 458.60,839.49 462.70,839.49 466.79,839.49 470.88,839.50 474.97,839.50 479.06,839.50 483.16,839.50 487.25,839.50 491.34,839.50 495.43,839.50 499.52,839.50 503.62,839.50 507.71,839.50 511.80,839.50 515.89,839.50 519.98,839.50 524.08,839.50 528.17,839.50 532.26,839.50 536.35,839.50 540.44,839.50 544.54,839.50 548.63,839.50 552.72,839.50 556.81,839.50 560.90,839.50 565.00,839.50 569.09,839.50 573.18,839.50 577.27,839.50 581.36,839.50 585.46,839.50 589.55,839.50 593.64,839.50" fill="none" stroke="#cc3a48" stroke-width="1.3" stroke-linejoin="round"/>
<polyline points="163.98,767.10 168.07,774.94 172.16,781.93 176.26,788.14 180.35,793.68 184.44,798.61 188.53,803.00 192.62,806.91 196.72,810.39 200.81,813.49 204.90,816.25 208.99,818.71 213.08,820.90 217.18,822.85 221.27,824.59 225.36,826.13 229.45,827.51 233.54,828.73 237.64,829.83 241.73,830.80 245.82,831.66 249.91,832.43 254.00,833.12 258.10,833.73 262.19,834.28 266.28,834.76 270.37,835.19 274.46,835.58 278.56,835.92 282.65,836.22 286.74,836.49 290.83,836.74 294.92,836.95 299.02,837.14 303.11,837.31 307.20,837.46 311.29,837.60 315.38,837.72 319.48,837.83 323.57,837.92 327.66,838.01 331.75,838.08 335.84,838.15 339.94,838.21 344.03,838.27 348.12,838.31 352.21,838.36 356.30,838.39 360.40,838.43 364.49,838.46 368.58,838.48 372.67,838.51 376.76,838.53 380.86,838.55 384.95,838.56 389.04,838.58 393.13,838.59 397.22,838.60 401.32,838.61 405.41,838.62 409.50,838.63 413.59,838.64 417.68,838.65 421.78,838.65 425.87,838.66 429.96,838.66 434.05,838.67 438.14,838.67 442.24,838.67 446.33,838.68 450.42,838.68 454.51,838.68 458.60,838.68 462.70,838.68 466.79,838.69 470.88,838.69 474.97,838.69 479.06,838.69 483.16,838.69 487.25,838.69 491.34,838.69 495.43,838.69 499.52,838.69 503.62,838.70 507.71,838.70 511.80,838.70 515.89,838.70 519.98,838.70 524.08,838.70 528.17,838.70 532.26,838.70 536.35,838.70 540.44,838.70 544.54,838.70 548.63,838.70 552.72,838.70 556.81,838.70 560.90,838.70 565.00,838.70 569.09,838.70 573.18,838.70 577.27,838.70 581.36,838.70 585.46,838.70 589.55,838.70 593.64,838.70" fill="none" stroke="#5e4590" stroke-width="1.3" stroke-linejoin="round"/>
<polyline points="163.98,634.70 168.07,645.40 172.16,655.49 176.26,665.01 180.35,673.98 184.44,682.45 188.53,690.43 192.62,697.96 196.72,705.06 200.81,711.75 204.90,718.07 208.99,724.02 213.08,729.64 217.18,734.94 221.27,739.93 225.36,744.64 229.45,749.09 233.54,753.28 237.64,757.23 241.73,760.95 245.82,764.47 249.91,767.78 254.00,770.91 258.10,773.86 262.19,776.64 266.28,779.26 270.37,781.73 274.46,784.06 278.56,786.26 282.65,788.33 286.74,790.29 290.83,792.14 294.92,793.88 299.02,795.52 303.11,797.06 307.20,798.52 311.29,799.90 315.38,801.20 319.48,802.42 323.57,803.57 327.66,804.66 331.75,805.69 335.84,806.66 339.94,807.57 344.03,808.43 348.12,809.24 352.21,810.01 356.30,810.73 360.40,811.41 364.49,812.06 368.58,812.66 372.67,813.23 376.76,813.77 380.86,814.28 384.95,814.76 389.04,815.21 393.13,815.64 397.22,816.04 401.32,816.42 405.41,816.78 409.50,817.11 413.59,817.43 417.68,817.73 421.78,818.01 425.87,818.28 429.96,818.53 434.05,818.77 438.14,818.99 442.24,819.20 446.33,819.40 450.42,819.59 454.51,819.77 458.60,819.93 462.70,820.09 466.79,820.24 470.88,820.38 474.97,820.51 479.06,820.64 483.16,820.75 487.25,820.87 491.34,820.97 495.43,821.07 499.52,821.16 503.62,821.25 507.71,821.33 511.80,821.41 515.89,821.48 519.98,821.55 524.08,821.62 528.17,821.68 532.26,821.74 536.35,821.79 540.44,821.84 544.54,821.89 548.63,821.94 552.72,821.98 556.81,822.02 560.90,822.06 565.00,822.10 569.09,822.13 573.18,822.16 577.27,822.19 581.36,822.22 585.46,822.25 589.55,822.28 593.64,822.30" fill="none" stroke="#bb6aa0" stroke-width="1.3" stroke-linejoin="round"/>
<circle cx="163.98" cy="804.10" r="6.3" fill="none" stroke="#2a7a52" stroke-width="1.4"/>
<circle cx="225.36" cy="831.10" r="6.3" fill="none" stroke="#2a7a52" stroke-width="1.4"/>
<circle cx="317.43" cy="836.10" r="6.3" fill="none" stroke="#2a7a52" stroke-width="1.4"/>
<circle cx="593.64" cy="846.30" r="6.3" fill="none" stroke="#2a7a52" stroke-width="1.4"/>
<circle cx="163.98" cy="790.70" r="6.3" fill="none" stroke="#44549a" stroke-width="1.4"/>
<circle cx="225.36" cy="826.90" r="6.3" fill="none" stroke="#44549a" stroke-width="1.4"/>
<circle cx="317.43" cy="833.50" r="6.3" fill="none" stroke="#44549a" stroke-width="1.4"/>
<circle cx="593.64" cy="837.90" r="6.3" fill="none" stroke="#44549a" stroke-width="1.4"/>
<circle cx="163.98" cy="781.70" r="6.3" fill="none" stroke="#e0954e" stroke-width="1.4"/>
<circle cx="225.36" cy="813.90" r="6.3" fill="none" stroke="#e0954e" stroke-width="1.4"/>
<circle cx="317.43" cy="833.50" r="6.3" fill="none" stroke="#e0954e" stroke-width="1.4"/>
<circle cx="593.64" cy="849.50" r="6.3" fill="none" stroke="#e0954e" stroke-width="1.4"/>
<circle cx="163.98" cy="779.90" r="6.3" fill="none" stroke="#cc3a48" stroke-width="1.4"/>
<circle cx="225.36" cy="819.10" r="6.3" fill="none" stroke="#cc3a48" stroke-width="1.4"/>
<circle cx="317.43" cy="836.10" r="6.3" fill="none" stroke="#cc3a48" stroke-width="1.4"/>
<circle cx="593.64" cy="841.70" r="6.3" fill="none" stroke="#cc3a48" stroke-width="1.4"/>
<circle cx="163.98" cy="767.10" r="6.3" fill="none" stroke="#5e4590" stroke-width="1.4"/>
<circle cx="225.36" cy="822.70" r="6.3" fill="none" stroke="#5e4590" stroke-width="1.4"/>
<circle cx="317.43" cy="834.70" r="6.3" fill="none" stroke="#5e4590" stroke-width="1.4"/>
<circle cx="593.64" cy="837.90" r="6.3" fill="none" stroke="#5e4590" stroke-width="1.4"/>
<circle cx="163.98" cy="634.70" r="6.3" fill="none" stroke="#bb6aa0" stroke-width="1.4"/>
<circle cx="225.36" cy="744.70" r="6.3" fill="none" stroke="#bb6aa0" stroke-width="1.4"/>
<circle cx="317.43" cy="793.70" r="6.3" fill="none" stroke="#bb6aa0" stroke-width="1.4"/>
<circle cx="593.64" cy="824.10" r="6.3" fill="none" stroke="#bb6aa0" stroke-width="1.4"/>
<text x="626.30" y="541.60" font-size="29.3" font-weight="normal" fill="#111">mIgA</text>
<line x1="607.00" y1="573.20" x2="639.50" y2="573.20" stroke="#bb6aa0" stroke-width="1.4" stroke-linecap="butt"/>
<circle cx="623.00" cy="573.20" r="6" fill="none" stroke="#bb6aa0" stroke-width="1.4"/>
<text x="649.10" y="581.60" font-size="29.3" font-weight="normal" fill="#111">4186</text>
<line x1="607.00" y1="608.90" x2="639.50" y2="608.90" stroke="#cc3a48" stroke-width="1.4" stroke-linecap="butt"/>
<circle cx="623.00" cy="608.90" r="6" fill="none" stroke="#cc3a48" stroke-width="1.4"/>
<text x="648.75" y="617.00" font-size="29.3" font-weight="normal" fill="#111">B8-030</text>
<line x1="607.00" y1="641.40" x2="639.50" y2="641.40" stroke="#44549a" stroke-width="1.4" stroke-linecap="butt"/>
<circle cx="623.00" cy="641.40" r="6" fill="none" stroke="#44549a" stroke-width="1.4"/>
<text x="646.85" y="650.40" font-size="29.3" font-weight="normal" fill="#111">4081</text>
<line x1="607.00" y1="677.50" x2="639.50" y2="677.50" stroke="#2a7a52" stroke-width="1.4" stroke-linecap="butt"/>
<circle cx="623.00" cy="677.50" r="6" fill="none" stroke="#2a7a52" stroke-width="1.4"/>
<text x="648.05" y="685.70" font-size="29.3" font-weight="normal" fill="#111">4250</text>
<line x1="607.00" y1="718.10" x2="639.50" y2="718.10" stroke="#e0954e" stroke-width="1.4" stroke-linecap="butt"/>
<circle cx="623.00" cy="718.10" r="6" fill="none" stroke="#e0954e" stroke-width="1.4"/>
<text x="648.05" y="726.40" font-size="29.3" font-weight="normal" fill="#111">4308</text>
<line x1="607.00" y1="758.60" x2="639.50" y2="758.60" stroke="#5e4590" stroke-width="1.4" stroke-linecap="butt"/>
<circle cx="623.00" cy="758.60" r="6" fill="none" stroke="#5e4590" stroke-width="1.4"/>
<text x="647.30" y="766.50" font-size="29.3" font-weight="normal" fill="#111">4584</text>
<text x="776.25" y="517.70" font-size="32" font-weight="bold" fill="#111">e</text>
<line x1="897.00" y1="545.70" x2="897.00" y2="846.90" stroke="#444" stroke-width="1.6" stroke-linecap="butt"/>
<line x1="884.50" y1="846.30" x2="1199.00" y2="846.30" stroke="#444" stroke-width="1.6" stroke-linecap="butt"/>
<line x1="884.50" y1="545.70" x2="897.00" y2="545.70" stroke="#444" stroke-width="1.5" stroke-linecap="butt"/>
<line x1="884.50" y1="645.70" x2="897.00" y2="645.70" stroke="#444" stroke-width="1.5" stroke-linecap="butt"/>
<line x1="884.50" y1="745.70" x2="897.00" y2="745.70" stroke="#444" stroke-width="1.5" stroke-linecap="butt"/>
<text x="825.20" y="553.70" font-size="29.3" font-weight="normal" fill="#111">10</text>
<text x="866.90" y="536.20" font-size="29.3" font-weight="normal" fill="#111">7</text>
<text x="825.20" y="653.70" font-size="29.3" font-weight="normal" fill="#111">10</text>
<text x="866.90" y="636.20" font-size="29.3" font-weight="normal" fill="#111">6</text>
<text x="825.20" y="753.70" font-size="29.3" font-weight="normal" fill="#111">10</text>
<text x="867.40" y="736.20" font-size="29.3" font-weight="normal" fill="#111">5</text>
<text x="825.20" y="853.70" font-size="29.3" font-weight="normal" fill="#111">10</text>
<text x="866.90" y="836.20" font-size="29.3" font-weight="normal" fill="#111">4</text>
<rect x="927.60" y="638.80" width="58.70" height="207.50" fill="#fff" stroke="#1a1a1a" stroke-width="1.5"/>
<rect x="1017.60" y="644.10" width="58.80" height="202.20" fill="#fff" stroke="#1a1a1a" stroke-width="1.5"/>
<rect x="1107.60" y="637.20" width="59.00" height="209.10" fill="#fff" stroke="#1a1a1a" stroke-width="1.5"/>
<line x1="956.90" y1="846.30" x2="956.90" y2="858.60" stroke="#444" stroke-width="1.5" stroke-linecap="butt"/>
<line x1="1046.90" y1="846.30" x2="1046.90" y2="858.60" stroke="#444" stroke-width="1.5" stroke-linecap="butt"/>
<line x1="1137.10" y1="846.30" x2="1137.10" y2="858.60" stroke="#444" stroke-width="1.5" stroke-linecap="butt"/>
<line x1="956.90" y1="625.00" x2="956.90" y2="657.80" stroke="#222" stroke-width="1.5" stroke-linecap="butt"/>
<line x1="941.90" y1="625.00" x2="971.90" y2="625.00" stroke="#222" stroke-width="1.5" stroke-linecap="butt"/>
<line x1="941.90" y1="657.80" x2="971.90" y2="657.80" stroke="#222" stroke-width="1.5" stroke-linecap="butt"/>
<line x1="1046.90" y1="625.40" x2="1046.90" y2="675.10" stroke="#222" stroke-width="1.5" stroke-linecap="butt"/>
<line x1="1031.90" y1="625.40" x2="1061.90" y2="625.40" stroke="#222" stroke-width="1.5" stroke-linecap="butt"/>
<line x1="1031.90" y1="675.10" x2="1061.90" y2="675.10" stroke="#222" stroke-width="1.5" stroke-linecap="butt"/>
<line x1="1137.20" y1="617.90" x2="1137.20" y2="669.60" stroke="#222" stroke-width="1.5" stroke-linecap="butt"/>
<line x1="1122.20" y1="617.90" x2="1152.20" y2="617.90" stroke="#222" stroke-width="1.5" stroke-linecap="butt"/>
<line x1="1122.20" y1="669.60" x2="1152.20" y2="669.60" stroke="#222" stroke-width="1.5" stroke-linecap="butt"/>
<circle cx="956.90" cy="617.10" r="6.2" fill="none" stroke="#111" stroke-width="1.4"/>
<circle cx="956.90" cy="631.90" r="6.2" fill="none" stroke="#111" stroke-width="1.4"/>
<circle cx="932.90" cy="636.60" r="6.2" fill="none" stroke="#111" stroke-width="1.4"/>
<circle cx="980.80" cy="642.70" r="6.2" fill="none" stroke="#111" stroke-width="1.4"/>
<circle cx="945.00" cy="657.80" r="6.2" fill="none" stroke="#111" stroke-width="1.4"/>
<circle cx="968.60" cy="656.50" r="6.2" fill="none" stroke="#111" stroke-width="1.4"/>
<circle cx="1046.90" cy="616.00" r="6.2" fill="none" stroke="#111" stroke-width="1.4"/>
<circle cx="1034.90" cy="646.00" r="6.2" fill="none" stroke="#111" stroke-width="1.4"/>
<circle cx="1058.70" cy="646.00" r="6.2" fill="none" stroke="#111" stroke-width="1.4"/>
<circle cx="1034.90" cy="664.30" r="6.2" fill="none" stroke="#111" stroke-width="1.4"/>
<circle cx="1058.70" cy="664.30" r="6.2" fill="none" stroke="#111" stroke-width="1.4"/>
<circle cx="1137.20" cy="615.60" r="6.2" fill="none" stroke="#111" stroke-width="1.4"/>
<circle cx="1137.20" cy="646.00" r="6.2" fill="none" stroke="#111" stroke-width="1.4"/>
<circle cx="1137.20" cy="658.80" r="6.2" fill="none" stroke="#111" stroke-width="1.4"/>
<text x="922.75" y="922.30" font-size="29.3" font-weight="normal" fill="#111" transform="rotate(-45 922.75 922.30)">4250</text>
<text x="990.90" y="948.00" font-size="29.3" font-weight="normal" fill="#111" transform="rotate(-45 990.90 948.00)">B8-030</text>
<text x="1106.05" y="921.90" font-size="29.3" font-weight="normal" fill="#111" transform="rotate(-45 1106.05 921.90)">4308</text>
<text x="1004.20" y="967.00" font-size="29.3" font-weight="normal" fill="#111">mSIgA</text>
<text x="812.80" y="748.75" font-size="29.3" font-weight="normal" fill="#111" transform="rotate(-90 812.80 748.75)">CFU/mg</text>
</svg></body></html>
